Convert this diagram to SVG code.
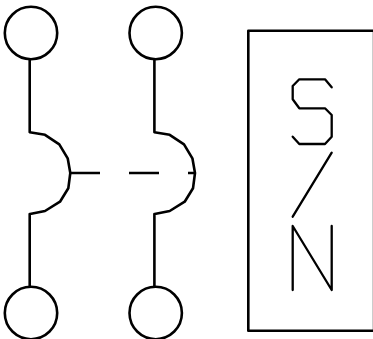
<svg xmlns="http://www.w3.org/2000/svg" width="373" height="339" viewBox="0 0 373 339">
<style>
.l{fill:none;stroke:#000;stroke-width:2.6;stroke-linejoin:round}
.t{fill:none;stroke:#000;stroke-width:2.3;stroke-linejoin:round;stroke-linecap:round}
</style>
<defs>
<g id="pole">
<circle class="l" cx="31" cy="33" r="26.2"/>
<circle class="l" cx="31" cy="313" r="26.2"/>
<path class="l" d="M29.7 59V132.3L45 134.8 59.3 144.3 67.7 158.3 70.3 173 68.3 188.3 60 201.7 45 211 30 214H29.7V287"/>
</g>
</defs>
<g id="pole-1"><use href="#pole"/></g>
<g id="pole-2"><use href="#pole" x="124.7"/></g>
<g id="connectors">
<path class="l" d="M70 173H100M129 173H159M188 173H196"/>
</g>
<g id="label-box">
<path d="M372.5 30.7V330.7" fill="none" stroke="#ccc" stroke-width="1"/>
<path class="l" d="M373 30.7H248.3V330.7H373"/>
<path class="t" d="M331.7 87.3L325 79.3H299.3L292.7 86V99.3L299.3 108.3H325L331.7 115V136.7L325 144H299.3L292.7 136.7"/>
<path class="t" d="M331.7 152.7L292.7 216.7"/>
<path class="t" d="M292.7 290V226L331.7 290V226"/>
</g>
</svg>
